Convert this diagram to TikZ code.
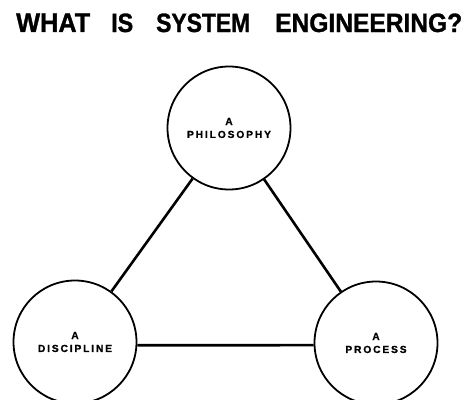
\documentclass[tikz,border=0pt]{standalone}
\usepackage{fontspec}
\usepackage{graphicx}
\setmainfont{Liberation Sans}
\newcommand{\titleword}[2]{\resizebox{#1}{18.5bp}{\bfseries\addfontfeatures{FakeBold=1.2}#2}}
\begin{document}
\begin{tikzpicture}[x=1bp,y=1bp,
  conceptcircle/.style={circle,draw,line width=1.8bp,minimum size=123bp,inner sep=0pt,
    align=center,font=\bfseries\fontsize{10.3}{12}\selectfont\addfontfeatures{LetterSpace=18,FakeBold=0.7}},
  titletext/.style={anchor=base west,inner sep=0pt},
  link/.style={line width=2.6bp}]
  \useasboundingbox (0,0) rectangle (464,399);
  % title, one word at a time
  \node[titletext] (tWhat) at (16,367)  {\titleword{74bp}{WHAT}};
  \node[titletext] (tIs)   at (111,367) {\titleword{22bp}{IS}};
  \node[titletext] (tSys)  at (156,367) {\titleword{94bp}{SYSTEM}};
  \node[titletext] (tEng)  at (275,367) {\titleword{187bp}{ENGINEERING?}};
  % the three aspects
  \node[conceptcircle] (philo) at (229,271) {A\\[1bp]PHILOSOPHY};
  \node[conceptcircle] (disc)  at (75,57)   {A\\[1bp]DISCIPLINE};
  \node[conceptcircle] (proc)  at (376,56)  {A\\[1bp]PROCESS};
  % connecting lines
  \draw[link] (philo) -- (disc);
  \draw[link] (philo) -- (proc);
  \draw[link] (disc.-3) -- (proc.182);
\end{tikzpicture}
\end{document}
